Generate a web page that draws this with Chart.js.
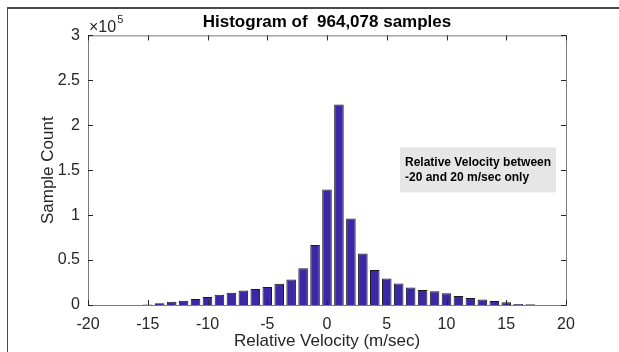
<!DOCTYPE html>
<html>
<head>
<meta charset="utf-8">
<script src="https://cdn.jsdelivr.net/npm/chart.js@4.4.0/dist/chart.umd.min.js"></script>
<style>
  body { margin: 0; background: #fff; }
  #wrap { position: relative; width: 619px; height: 352px; }
  #frame { position: absolute; left: 7px; top: 7px; width: 612px; height: 345px;
           border-top: 2px solid #4a4a4a; border-left: 1px solid #4a4a4a; pointer-events: none; }
</style>
</head>
<body>
<div id="wrap">
  <canvas id="hist"></canvas>
  <div id="frame"></div>
</div>
<script>
// bin centres (m/sec) and counts
const velocity = [-15, -14, -13, -12, -11, -10, -9, -8, -7, -6, -5, -4, -3, -2, -1,
                  0, 1, 2, 3, 4, 5, 6, 7, 8, 9, 10, 11, 12, 13, 14, 15, 16, 17];
const counts = [600, 2000, 3500, 4600, 6800, 8800, 11300, 13600, 16200, 17700, 20000, 23600, 28500, 41000, 66700,
                128500, 223200, 96300, 57400, 38900, 29600, 24000, 19600, 16700, 15200, 13000, 10000, 7800, 6000, 4400, 3000, 1200, 800];
const xTicks = [-20, -15, -10, -5, 0, 5, 10, 15, 20];
const yTicks = [0, 0.5, 1, 1.5, 2, 2.5, 3];   // x 10^5
const noteLines = ['Relative Velocity between', '-20 and 20 m/sec only'];

const FONT = 'Liberation Sans, Arial, sans-serif';
const TXT = '#262626';

// matlab-style box, inward ticks, exponent and note
const matlabBox = {
    id: 'matlabBox',
    afterDatasetsDraw(chart) {
        const ctx = chart.ctx;
        const a = chart.chartArea;
        const xs = chart.scales.x, ys = chart.scales.y;
        ctx.save();
        ctx.strokeStyle = '#7a7a7a';
        ctx.lineWidth = 1;
        ctx.strokeRect(a.left + 0.5, a.top + 0.5, a.right - a.left, a.bottom - a.top);
        ctx.strokeStyle = '#262626';
        ctx.beginPath();
        xTicks.forEach(v => {
            const px = Math.round(xs.getPixelForValue(v)) + 0.5;
            ctx.moveTo(px, a.bottom); ctx.lineTo(px, a.bottom - 5);
            ctx.moveTo(px, a.top); ctx.lineTo(px, a.top + 5);
        });
        yTicks.forEach(v => {
            const py = Math.round(ys.getPixelForValue(v * 1e5)) + 0.5;
            ctx.moveTo(a.left, py); ctx.lineTo(a.left + 5, py);
            ctx.moveTo(a.right, py); ctx.lineTo(a.right - 5, py);
        });
        ctx.stroke();

        // exponent label
        ctx.fillStyle = TXT;
        ctx.textBaseline = 'alphabetic';
        ctx.font = '16px ' + FONT;
        ctx.fillText('\u00d710', a.left + 1, a.top - 3);
        const w = ctx.measureText('\u00d710').width;
        ctx.font = '11px ' + FONT;
        ctx.fillText('5', a.left + 2 + w, a.top - 12);

        // note box
        const bx = a.left + 312, by = a.top + 112, bw = 156, bh = 45;
        ctx.fillStyle = '#e6e6e6';
        ctx.fillRect(bx, by, bw, bh);
        ctx.fillStyle = '#000';
        ctx.font = 'bold 12px ' + FONT;
        ctx.textBaseline = 'middle';
        noteLines.forEach((s, i) => ctx.fillText(s, bx + 5, by + 15 + i * 15));
        ctx.restore();
    }
};

const ctx = document.getElementById('hist');
new Chart(ctx, {
    type: 'bar',
    data: {
        datasets: [{
            data: velocity.map((v, i) => ({x: v, y: counts[i]})),
            backgroundColor: '#3b28a6',
            borderColor: '#1a1a1a',
            borderWidth: 1,
            barPercentage: 0.8,
            categoryPercentage: 1.0
        }]
    },
    options: {
        responsive: true,
        maintainAspectRatio: false,
        animation: false,
        layout: { padding: { left: 0, right: 53, top: 0, bottom: 0 } },
        plugins: {
            legend: { display: false },
            tooltip: { enabled: false },
            title: {
                display: true,
                fullSize: false,
                text: 'Histogram of  964,078 samples',
                color: '#000',
                font: { family: FONT, size: 17, weight: 'bold' },
                padding: { top: 12, bottom: 3 }
            }
        },
        scales: {
            x: {
                type: 'linear',
                min: -20, max: 20,
                offset: false,
                grid: { display: false },
                border: { display: false },
                afterBuildTicks: s => { s.ticks = xTicks.map(v => ({value: v})); },
                afterFit: s => { s.height = 47; },
                ticks: { color: TXT, font: { family: FONT, size: 16 }, padding: 2, maxRotation: 0 },
                title: { display: true, text: 'Relative Velocity (m/sec)', color: TXT,
                         font: { family: FONT, size: 17 }, padding: { top: 0, bottom: 0 } }
            },
            y: {
                min: 0, max: 3e5,
                grid: { display: false },
                border: { display: false },
                afterBuildTicks: s => { s.ticks = yTicks.map(v => ({value: v * 1e5})); },
                afterFit: s => { s.width = 88; },
                ticks: { color: TXT, font: { family: FONT, size: 16 }, padding: 0,
                         callback: v => String(v / 1e5) },
                title: { display: true, text: 'Sample Count', color: TXT,
                         font: { family: FONT, size: 17 }, padding: { top: 38, bottom: 0 } }
            }
        }
    },
    plugins: [matlabBox]
});
</script>
</body>
</html>
